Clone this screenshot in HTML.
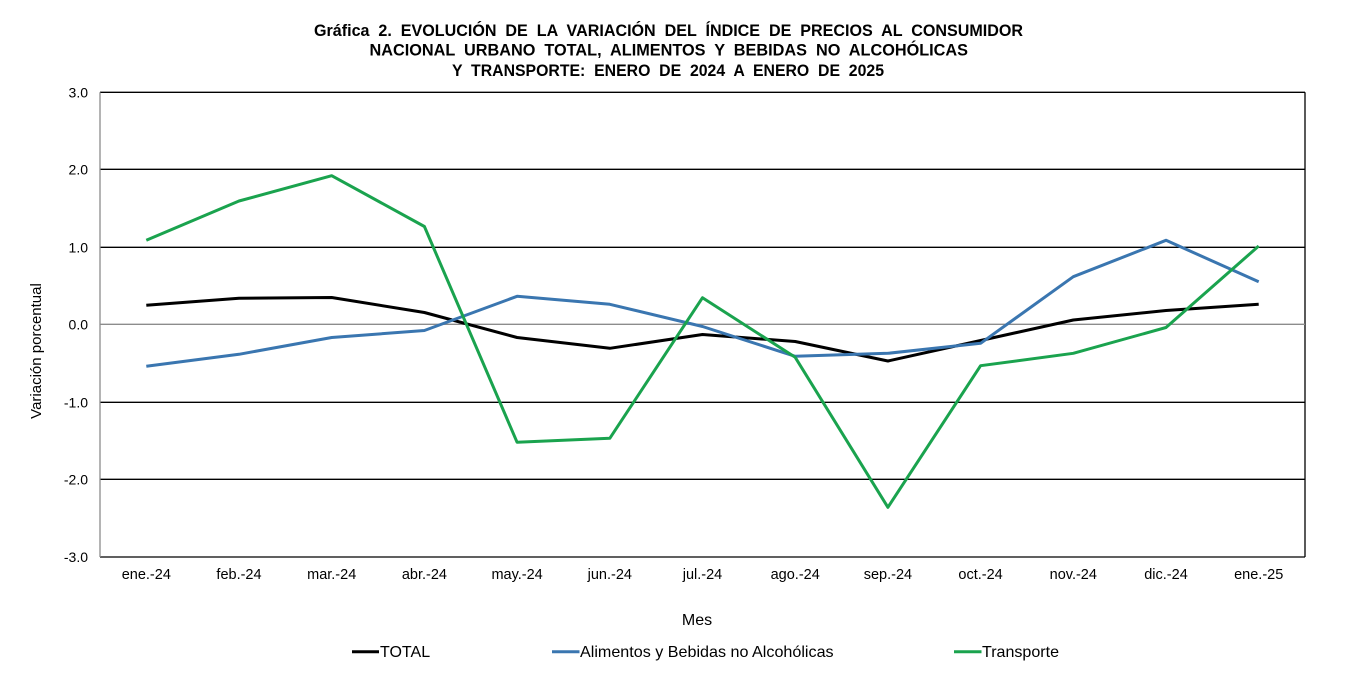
<!DOCTYPE html>
<html>
<head>
<meta charset="utf-8">
<style>
html,body{margin:0;padding:0;background:#fff;}
svg{display:block;}
text{font-family:"Liberation Sans",Arial,sans-serif;}
</style>
</head>
<body>
<svg width="1367" height="700" viewBox="0 0 1367 700" xmlns="http://www.w3.org/2000/svg">
<rect x="0" y="0" width="1367" height="700" fill="#fff"/>
<!-- Title -->
<g font-weight="bold" font-size="16.5" fill="#000" text-anchor="start">
<text x="314" y="36" textLength="709" lengthAdjust="spacingAndGlyphs" xml:space="preserve">Gráfica  2.  EVOLUCIÓN  DE  LA  VARIACIÓN  DEL  ÍNDICE  DE  PRECIOS  AL  CONSUMIDOR</text>
<text x="369.5" y="55.7" textLength="598.5" lengthAdjust="spacingAndGlyphs" xml:space="preserve">NACIONAL  URBANO  TOTAL,  ALIMENTOS  Y  BEBIDAS  NO  ALCOHÓLICAS</text>
<text x="452" y="75.8" textLength="432" lengthAdjust="spacingAndGlyphs" xml:space="preserve">Y  TRANSPORTE:  ENERO  DE  2024  A  ENERO  DE  2025</text>
</g>
<!-- Gridlines -->
<g stroke="#000" stroke-width="1.3">
<line x1="100" y1="92.3" x2="1305" y2="92.3"/>
<line x1="100" y1="169.3" x2="1305" y2="169.3"/>
<line x1="100" y1="247.3" x2="1305" y2="247.3"/>
<line x1="100" y1="402.3" x2="1305" y2="402.3"/>
<line x1="100" y1="479.3" x2="1305" y2="479.3"/>
<line x1="100" y1="557" x2="1305" y2="557"/>
<line x1="1305" y1="92.3" x2="1305" y2="557"/>
</g>
<line x1="100" y1="324.3" x2="1305" y2="324.3" stroke="#8c8c8c" stroke-width="1.3"/>
<line x1="100" y1="92.3" x2="100" y2="557" stroke="#8c8c8c" stroke-width="1.3"/>
<!-- Y tick labels -->
<g font-size="14" fill="#000" text-anchor="end">
<text x="88" y="97.3">3.0</text>
<text x="88" y="174.3">2.0</text>
<text x="88" y="252.3">1.0</text>
<text x="88" y="329.3">0.0</text>
<text x="88" y="407.3">-1.0</text>
<text x="88" y="484.3">-2.0</text>
<text x="88" y="562">-3.0</text>
</g>
<!-- Y axis title -->
<text transform="translate(41,351) rotate(-90)" font-size="15" text-anchor="middle" fill="#000">Variación porcentual</text>
<!-- X tick labels -->
<g font-size="14.5" fill="#000" text-anchor="middle">
<text x="146.3" y="579">ene.-24</text>
<text x="239" y="579">feb.-24</text>
<text x="331.7" y="579">mar.-24</text>
<text x="424.4" y="579">abr.-24</text>
<text x="517.1" y="579">may.-24</text>
<text x="609.8" y="579">jun.-24</text>
<text x="702.5" y="579">jul.-24</text>
<text x="795.2" y="579">ago.-24</text>
<text x="887.9" y="579">sep.-24</text>
<text x="980.6" y="579">oct.-24</text>
<text x="1073.3" y="579">nov.-24</text>
<text x="1166" y="579">dic.-24</text>
<text x="1258.7" y="579">ene.-25</text>
</g>
<text x="697" y="625" font-size="16" text-anchor="middle" fill="#000">Mes</text>
<!-- Series -->
<g fill="none" stroke-width="3" stroke-linejoin="round" stroke-linecap="butt">
<!-- TOTAL -->
<polyline stroke="#000" points="146.3,305.3 239,298.2 331.7,297.5 424.4,312.5 517.1,337.5 609.8,348.3 702.5,334.5 795.2,341.5 887.9,361 980.6,340.5 1073.3,320 1166,310.5 1258.7,304.3"/>
<!-- Alimentos -->
<polyline stroke="#3a76b0" points="146.3,366.3 239,354.3 331.7,337.5 424.4,330.5 517.1,296.3 609.8,304.3 702.5,326.5 795.2,356.3 887.9,353.3 980.6,343.3 1073.3,276.7 1166,240.3 1258.7,281.7"/>
<!-- Transporte -->
<polyline stroke="#1aa34e" points="146.3,240.3 239,201 331.7,175.7 424.4,226.5 517.1,442.3 609.8,438.3 702.5,297.7 795.2,357.3 887.9,507.3 980.6,365.7 1073.3,353.3 1166,327.5 1258.7,246"/>
</g>
<!-- Legend -->
<line x1="352" y1="651.7" x2="379" y2="651.7" stroke="#000" stroke-width="3"/>
<text x="380" y="657" font-size="16" fill="#000">TOTAL</text>
<line x1="552" y1="651.7" x2="579.5" y2="651.7" stroke="#3a76b0" stroke-width="3"/>
<text x="580" y="657" font-size="16" fill="#000" textLength="253.6" lengthAdjust="spacingAndGlyphs">Alimentos y Bebidas no Alcohólicas</text>
<line x1="954" y1="651.7" x2="981.5" y2="651.7" stroke="#1aa34e" stroke-width="3"/>
<text x="982" y="657" font-size="16" fill="#000" textLength="77" lengthAdjust="spacingAndGlyphs">Transporte</text>
</svg>
</body>
</html>
